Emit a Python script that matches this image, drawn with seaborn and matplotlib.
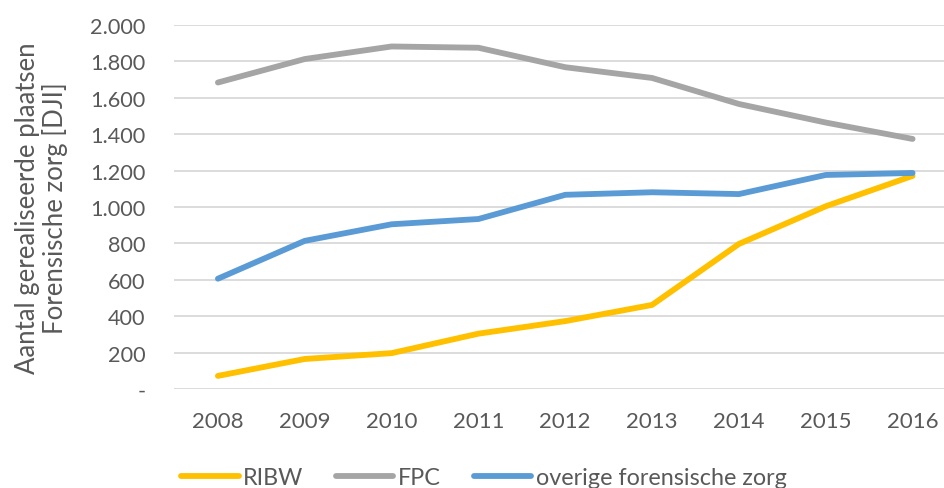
import pandas as pd
import matplotlib
matplotlib.use('Agg')
import matplotlib.pyplot as plt
import seaborn as sns

# Data
years = [2008, 2009, 2010, 2011, 2012, 2013, 2014, 2015, 2016]
ribw = [72, 165, 197, 304, 373, 462, 797, 1004, 1171]
fpc = [1684, 1813, 1882, 1875, 1768, 1709, 1566, 1464, 1374]
overige = [606, 814, 905, 934, 1067, 1081, 1071, 1176, 1187]
series_names = ['RIBW', 'FPC', 'overige forensische zorg']
colors = ['#FFC000', '#A5A5A5', '#5B9BD5']
yticks = [0, 200, 400, 600, 800, 1000, 1200, 1400, 1600, 1800, 2000]
ytick_labels = ['-', '200', '400', '600', '800', '1.000', '1.200', '1.400', '1.600', '1.800', '2.000']

df = pd.DataFrame({
    'jaar': [str(y) for y in years] * 3,
    'waarde': ribw + fpc + overige,
    'reeks': [series_names[0]] * len(years) + [series_names[1]] * len(years) + [series_names[2]] * len(years),
})

sns.set_theme(style='white')
plt.rcParams['font.family'] = ['Lato', 'DejaVu Sans']
text_color = '#595959'

fig = plt.figure(figsize=(9.45, 4.89), dpi=100)
ax = fig.add_axes([174.5 / 945, 1 - 390 / 489, (956 - 174.5) / 945, (390 - 26) / 489])

sns.lineplot(data=df, x='jaar', y='waarde', hue='reeks', palette=colors,
             linewidth=4.2, ax=ax, sort=False, solid_capstyle='round')

ax.set_xlim(-0.5, len(years) - 0.5)
ax.set_ylim(0, 2000)
ax.set_yticks(yticks)
ax.set_yticklabels(ytick_labels)
ax.grid(axis='y', color='#D9D9D9', linewidth=1.3)
ax.set_axisbelow(True)
for s in ax.spines.values():
    s.set_visible(False)
ax.tick_params(axis='y', length=0, pad=21, labelsize=15.6, labelcolor=text_color)
ax.tick_params(axis='x', length=0, pad=16, labelsize=16, labelcolor=text_color)
ax.set_xlabel('')
ax.set_ylabel('')

# two-line y label, placed by hand
fig.text(41.5 / 945, 1 - 208 / 489, 'Aantal gerealiseerde plaatsen\nForensische zorg [DJI]',
         rotation=90, ha='center', va='center', multialignment='center',
         fontsize=18.5, color=text_color, linespacing=1.05)

handles, labels = ax.get_legend_handles_labels()
ax.legend_.remove()
leg = fig.legend(handles, labels, loc='center', bbox_to_anchor=(484 / 945, 1 - 479 / 489),
                 ncol=3, frameon=False, fontsize=16.8, handlelength=2.45,
                 handletextpad=0.2, columnspacing=1.4)
for t in leg.get_texts():
    t.set_color(text_color)

fig.savefig('out.png', dpi=100)
